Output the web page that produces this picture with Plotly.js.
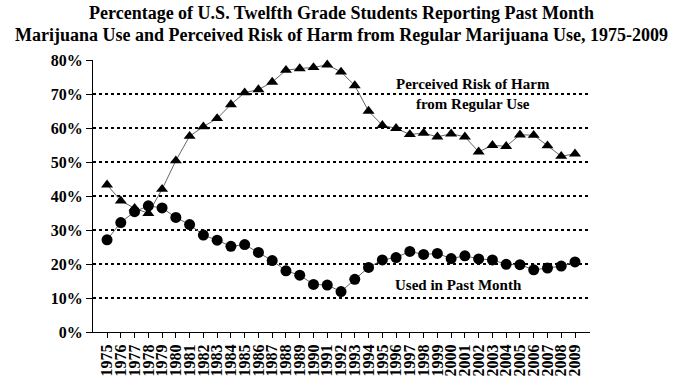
<!DOCTYPE html>
<html>
<head>
<meta charset="utf-8">
<script src="https://cdn.plot.ly/plotly-3.0.1.min.js"></script>
<style>html,body{margin:0;padding:0;background:#fff;}#chart{width:680px;height:385px;}</style>
</head>
<body>
<div id="chart"></div>
<script>
const years = [1975,1976,1977,1978,1979,1980,1981,1982,1983,1984,1985,1986,1987,1988,1989,1990,1991,1992,1993,1994,1995,1996,1997,1998,1999,2000,2001,2002,2003,2004,2005,2006,2007,2008,2009];
const perceivedRisk = [43.3,38.6,36.4,34.9,42.0,50.4,57.6,60.4,62.8,66.9,70.4,71.3,73.5,77.0,77.5,77.8,78.6,76.5,72.5,65.0,60.8,59.9,58.1,58.5,57.4,58.3,57.4,53.0,54.9,54.6,58.0,57.9,54.8,51.7,52.4];
const pastMonthUse = [27.1,32.2,35.4,37.1,36.5,33.7,31.6,28.5,27.0,25.2,25.7,23.4,21.0,18.0,16.7,14.0,13.8,11.9,15.5,19.0,21.2,21.9,23.7,22.8,23.1,21.6,22.4,21.5,21.2,19.9,19.8,18.3,18.8,19.4,20.6];
const yTicks = [0,10,20,30,40,50,60,70,80];
const yTickLabels = yTicks.map(v => v + '%');
const titleLines = ['Percentage of U.S. Twelfth Grade Students Reporting Past Month','Marijuana Use and Perceived Risk of Harm from Regular Marijuana Use, 1975-2009'];

const serif = "'Liberation Serif', 'Times New Roman', serif";

const traces = [
  {x: years, y: perceivedRisk, type: 'scatter', mode: 'lines+markers',
   line: {color: '#666', width: 1}, marker: {symbol: 'triangle-up', size: 10.5, color: '#000'},
   name: 'Perceived Risk of Harm from Regular Use', cliponaxis: false},
  {x: years, y: pastMonthUse, type: 'scatter', mode: 'lines+markers',
   line: {color: '#666', width: 1}, marker: {symbol: 'circle', size: 11, color: '#000'},
   name: 'Used in Past Month', cliponaxis: false}
];

const layout = {
  width: 680, height: 385,
  margin: {l: 93, r: 90, t: 60, b: 53},
  paper_bgcolor: '#fff', plot_bgcolor: '#fff',
  showlegend: false,
  font: {family: serif, color: '#000'},
  xaxis: {
    range: [1973.98, 2010.09], tickmode: 'array', tickvals: years, ticktext: years.map(String),
    tickangle: -90, tickfont: {family: serif, size: 16, color: '#000', weight: 'bold'},
    showgrid: false, zeroline: false, showline: true, linecolor: '#000', linewidth: 1,
    ticks: 'outside', ticklen: 5, tickcolor: '#000', tickwidth: 1
  },
  yaxis: {
    range: [0, 80], tickmode: 'array', tickvals: yTicks, ticktext: yTickLabels,
    tickfont: {family: serif, size: 16, color: '#000', weight: 'bold'},
    showgrid: true, gridcolor: '#000', gridwidth: 2, griddash: 'dot',
    zeroline: false, showline: true, linecolor: '#000', linewidth: 1,
    ticks: 'outside', ticklen: 6, tickcolor: '#000', tickwidth: 1
  },
  annotations: [
    {x: 0.5, y: 1.1728, xref: 'paper', yref: 'paper', text: titleLines[0], showarrow: false,
     xanchor: 'center', yanchor: 'middle', font: {family: serif, size: 18, color: '#000', weight: 'bold'}},
    {x: 0.5, y: 1.0919, xref: 'paper', yref: 'paper', text: titleLines[1], showarrow: false,
     xanchor: 'center', yanchor: 'middle', font: {family: serif, size: 18, color: '#000', weight: 'bold'}},
    {x: 2001.6, y: 70, xref: 'x', yref: 'y', text: 'Perceived Risk of Harm<br>from Regular Use', showarrow: false,
     font: {family: serif, size: 15, color: '#000', weight: 'bold'}, align: 'center'},
    {x: 2000.5, y: 13.8, xref: 'x', yref: 'y', text: 'Used in Past Month', showarrow: false,
     font: {family: serif, size: 15, color: '#000', weight: 'bold'}}
  ]
};

Plotly.newPlot('chart', traces, layout, {displayModeBar: false, staticPlot: true});
</script>
</body>
</html>
